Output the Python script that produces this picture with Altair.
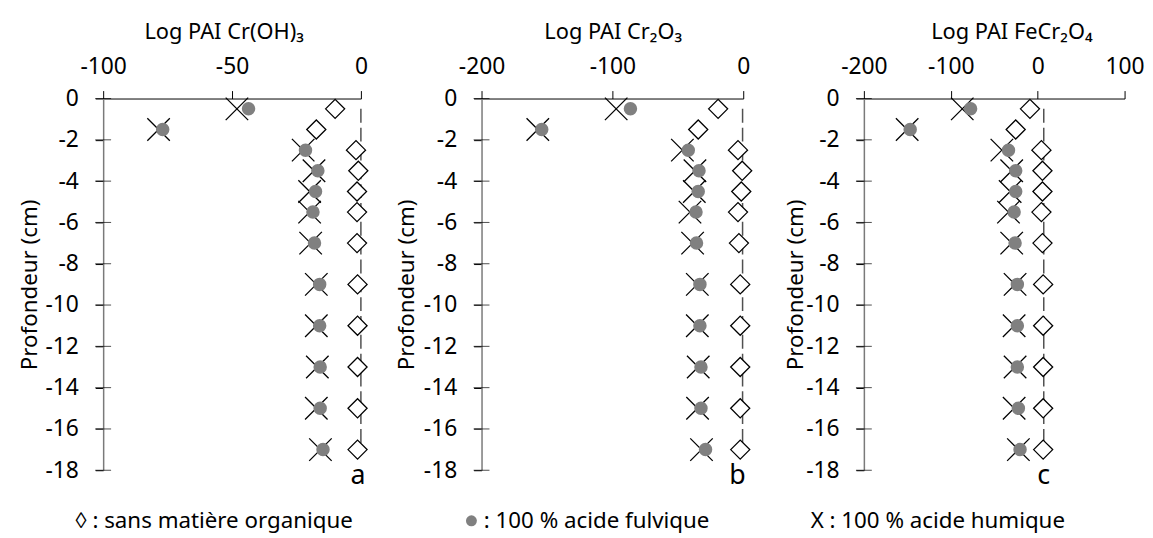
import altair as alt
import pandas as pd

# ---------------- data ----------------
depths = [-0.5, -1.5, -2.5, -3.5, -4.5, -5.5, -7, -9, -11, -13, -15, -17]

a_sans = [-10, -17.3, -1.9, -1.0, -1.5, -1.5, -1.5, -1.3, -1.3, -1.3, -1.3, -1.3]
a_fulv = [-43.6, -76.9, -21.5, -16.7, -17.6, -18.6, -18.0, -16.0, -16.0, -15.8, -15.8, -14.7]
a_hum = [-48.1, -78.5, -22.4, -18.2, -19.9, -19.9, -19.5, -17.3, -17.3, -16.9, -17.3, -15.7]

b_sans = [-19.2, -34.4, -4.0, -0.8, -1.5, -4.0, -3.3, -2.3, -2.3, -2.3, -2.3, -2.3]
b_fulv = [-86.2, -154, -42, -33.8, -34.4, -36.1, -35.7, -33.1, -33.1, -32.3, -32.3, -28.8]
b_hum = [-97.1, -157, -46.5, -36.9, -37.4, -40.7, -38.7, -35.1, -35.1, -34.4, -34.9, -31.9]

c_sans = [-8.9, -25.3, 4.3, 5.5, 5.5, 4.3, 5.5, 6.3, 6.3, 6.3, 6.3, 6.3]
c_fulv = [-77.2, -146.7, -33.6, -25.3, -25.3, -27.1, -26.0, -23.4, -23.4, -23.4, -22.2, -20.3]
c_hum = [-86.8, -150.2, -41.2, -29.9, -31.7, -33.6, -29.9, -26.0, -27.1, -26.0, -27.1, -22.2]

ref_line_x = [0, -0.5, 7]
ref_line_top = [-0.5]
ref_line_bottom = [-17]

x_titles = ["Log PAI Cr(OH)\u2083", "Log PAI Cr\u2082O\u2083", "Log PAI FeCr\u2082O\u2084"]
x_domains = [[-100, 0], [-200, 0], [-200, 100]]
x_ticks = [[-100, -50, 0], [-200, -100, 0], [-200, -100, 0, 100]]
y_ticks = [0, -2, -4, -6, -8, -10, -12, -14, -16, -18]
y_title = "Profondeur (cm)"
panel_letters = ["a", "b", "c"]
legend_texts = ["\u25ca : sans mati\u00e8re organique", ": 100 % acide fulvique", "X : 100 % acide humique"]

FONT = "Noto Sans"
H = 375
CROSS = "M-1,-1L1,1M-1,1L1,-1"


def panel(i, sans, fulv, hum, width, title_x, ytitle_x, letter_x, legend):
    df = pd.DataFrame({
        "depth": depths * 3,
        "value": sans + fulv + hum,
        "serie": ["sans"] * len(depths) + ["fulv"] * len(depths) + ["hum"] * len(depths),
    })
    xscale = alt.Scale(domain=x_domains[i], nice=False, zero=False)
    yscale = alt.Scale(domain=[-18, 0], nice=False, zero=False)
    xaxis = alt.Axis(
        orient="top", title=x_titles[i], values=x_ticks[i], labelExpr="'' + datum.value",
        grid=False, domainColor="black", domainWidth=1, tickColor="black", tickSize=8,
        labelPadding=17, labelBaseline="alphabetic", labelFontSize=23, labelColor="black",
        labelFlush=False, labelOverlap=False,
        titleFontSize=22, titleFontWeight="normal", titleColor="black",
        titleX=title_x, titleY=-61, titleBaseline="alphabetic", titleAlign="center",
    )
    yaxis = alt.Axis(
        title=y_title, values=y_ticks, labelExpr="'' + datum.value",
        grid=False, domainColor="#7a7a7a", domainWidth=1.5, tickColor="black", tickSize=8,
        labelPadding=17, labelFontSize=23, labelColor="black", labelOverlap=False,
        titleFontSize=22.5, titleFontWeight="normal", titleColor="black",
        titleX=ytitle_x, titleY=H / 2, titleAngle=270, titleBaseline="alphabetic",
        titleAlign="center",
    )

    def X(f):
        return alt.X(f, type="quantitative", scale=xscale, axis=xaxis)

    def Y(f):
        return alt.Y(f, type="quantitative", scale=yscale, axis=yaxis)

    rule_df = pd.DataFrame({"rx": [ref_line_x[i]], "ry": ref_line_top, "ry2": ref_line_bottom})
    rule = alt.Chart(rule_df).mark_rule(
        strokeDash=[14, 5], color="#505050", strokeWidth=1.5
    ).encode(x=X("rx"), y=Y("ry"), y2="ry2")

    base = alt.Chart(df)
    hum_l = base.transform_filter("datum.serie == 'hum'").mark_point(
        shape=CROSS, filled=False, color="black", strokeWidth=1.3, size=515, opacity=1
    ).encode(x=X("value"), y=Y("depth"))
    fulv_l = base.transform_filter("datum.serie == 'fulv'").mark_point(
        shape="circle", filled=True, color="#808080", size=185, opacity=1
    ).encode(x=X("value"), y=Y("depth"))
    sans_l = base.transform_filter("datum.serie == 'sans'").mark_point(
        shape="diamond", filled=True, fill="white", stroke="black", strokeWidth=1.3,
        size=370, opacity=1, fillOpacity=1
    ).encode(x=X("value"), y=Y("depth"))

    tick_df = pd.DataFrame({"tx": [x_domains[i][0]] * len(y_ticks), "ty": y_ticks})
    ticks = alt.Chart(tick_df).mark_tick(
        orient="horizontal", size=16, thickness=1, color="black"
    ).encode(x=X("tx"), y=Y("ty"))

    letter = alt.Chart(pd.DataFrame({"t": [panel_letters[i]]})).mark_text(
        fontSize=27, align="center", baseline="alphabetic", color="black", font=FONT
    ).encode(text="t:N", x=alt.value(letter_x), y=alt.value(389))

    layers = [rule, hum_l, fulv_l, sans_l, ticks, letter]
    lx, lalign, bullet_x = legend
    leg = alt.Chart(pd.DataFrame({"t": [legend_texts[i]]})).mark_text(
        fontSize=22.5, align=lalign, baseline="alphabetic", color="black", font=FONT
    ).encode(text="t:N", x=alt.value(lx), y=alt.value(433))
    layers.append(leg)
    if bullet_x is not None:
        bul = alt.Chart(pd.DataFrame({"t": [legend_texts[i]]})).mark_circle(
            color="#808080", size=121, opacity=1
        ).encode(x=alt.value(bullet_x), y=alt.value(426))
        layers.append(bul)

    return alt.layer(*layers).properties(width=width, height=H)


pa = panel(0, a_sans, a_fulv, a_hum, 260, 121.5, -67, 257, (112, "center", None))
pb = panel(1, b_sans, b_fulv, b_hum, 264, 132.3, -68.7, 258.3, (2.3, "left", -10.2))
pc = panel(2, c_sans, c_fulv, c_hum, 263, 148.8, -61.7, 181.3, (74.6, "center", None))

chart = alt.hconcat(pa, pb, pc, spacing=121.7, bounds="flush").properties(
    padding={"left": 10, "top": 9, "right": 0, "bottom": 0}
).configure(font=FONT).configure_view(stroke="transparent")

chart.save("out.html", embed_options={"renderer": "svg", "actions": False})
